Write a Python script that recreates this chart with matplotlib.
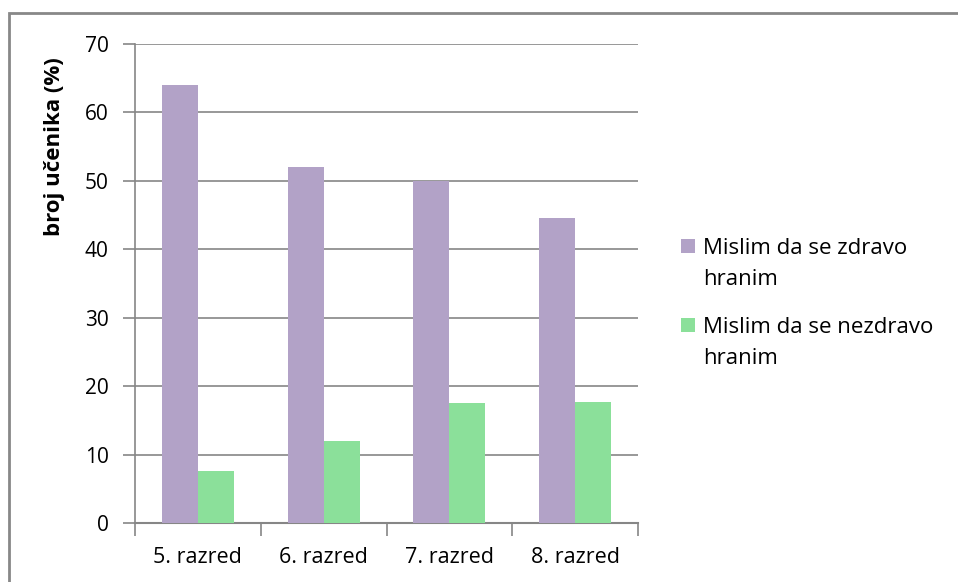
import matplotlib
matplotlib.use("Agg")
import matplotlib.pyplot as plt
from matplotlib.patches import Rectangle
import numpy as np

categories = ["5. razred", "6. razred", "7. razred", "8. razred"]
zdravo = [64, 52, 50, 44.6]
nezdravo = [7.6, 12, 17.5, 17.7]
series_labels = ["Mislim da se zdravo\nhranim", "Mislim da se nezdravo\nhranim"]
series_colors = ['#B2A2C7', '#8BE09A']
yticks = [0, 10, 20, 30, 40, 50, 60, 70]

plt.rcParams['font.family'] = ['Open Sans', 'DejaVu Sans']
W, H = 958, 582
fig = plt.figure(figsize=(W/100, H/100), dpi=100)
fig.patch.set_facecolor('white')

# outer frame
fig.patches.append(Rectangle((9/W, -0.1), 1.2, 1 - 13/H + 0.1, transform=fig.transFigure,
                             fill=False, edgecolor='#888888', linewidth=2))

ax = fig.add_axes([135/W, 1 - 523/H, (638-135)/W, (523-44)/H])
x = np.arange(len(categories))
w = 0.286
grid_c = '#868686'
ax.bar(x - w/2, zdravo, w, color=series_colors[0], label=series_labels[0], zorder=3)
ax.bar(x + w/2, nezdravo, w, color=series_colors[1], label=series_labels[1], zorder=3)

ax.set_xlim(-0.5, len(categories) - 0.5)
ax.set_ylim(0, 70)
ax.set_yticks(yticks)
ax.set_yticklabels([str(v) for v in yticks], fontsize=15)
ax.set_xticks(x)
ax.set_xticklabels(categories, fontsize=15.5)
ax.set_xticks(np.arange(len(categories) + 1) - 0.5, minor=True)
ax.tick_params(axis='x', which='major', length=0, pad=17)
ax.tick_params(axis='x', which='minor', length=9, color=grid_c, width=1.2)
ax.tick_params(axis='y', length=9, color=grid_c, width=1.2, pad=10)
ax.yaxis.grid(True, color=grid_c, linewidth=1.2, zorder=0)
ax.set_axisbelow(True)
for s in ['top', 'right']:
    ax.spines[s].set_visible(False)
ax.spines['left'].set_color(grid_c)
ax.spines['bottom'].set_color(grid_c)
ax.spines['left'].set_linewidth(1.2)
ax.spines['bottom'].set_linewidth(1.5)

ax.set_ylabel("broj učenika (%)", fontsize=16, fontweight='bold')
ax.yaxis.set_label_coords((65 - 135) / 503, (523 - 147) / 479)

# manual legend (square aligned with first text line, as in the original)
entry_tops = [239, 318]
for top, lab, col in zip(entry_tops, series_labels, series_colors):
    fig.patches.append(Rectangle((681/W, 1 - (top + 14)/H), 14/W, 14/H,
                                 transform=fig.transFigure, facecolor=col, edgecolor='none'))
    fig.text(703/W, 1 - (top + 46)/H, lab, fontsize=16, ha='left', va='baseline',
             linespacing=1.62, transform=fig.transFigure)

fig.savefig("out.png", dpi=100)
